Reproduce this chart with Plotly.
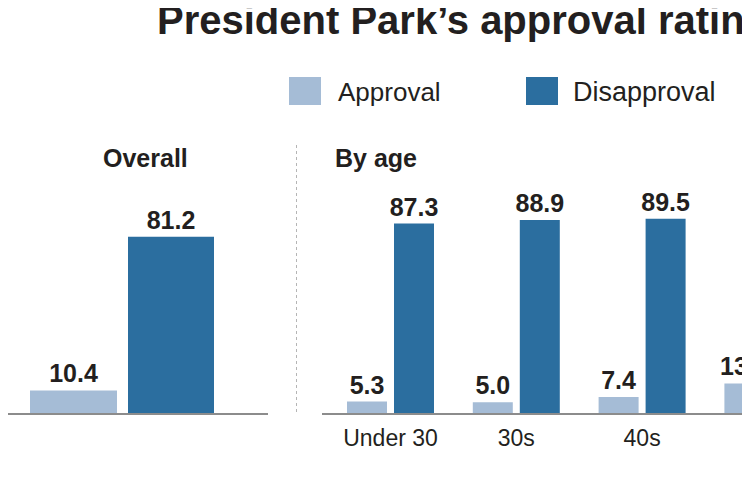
import plotly.graph_objects as go

# ---- data ----
overall_cat = ["Overall"]
overall_approval = [10.4]
overall_disapproval = [81.2]

age_cats = ["Under 30", "30s", "40s", "50s"]
age_approval = [5.3, 5.0, 7.4, 13.6]
age_disapproval = [87.3, 88.9, 89.5, None]

series_names = ["Approval", "Disapproval"]
title_text = "President Park\u2019s approval rating"

# ---- style ----
# The page body has an 8px margin, so the figure is drawn at (8, 8) in the window.
OFF = 8
W, H = 750, 460
C_APP = "#a5bcd6"
C_DIS = "#2b6e9f"
TXT = "#231f20"
FONT = "Liberation Sans, Arial, Helvetica, sans-serif"

def px(x):
    return (x - OFF) / W

def py(y):
    return 1 - (y - OFF) / H

base_y = 413
top_y = 196
ydom = [py(base_y), py(top_y)]

fig = go.Figure()

label_font = dict(family=FONT, size=25, color=TXT, weight="bold")

# Overall panel: x unit = 268 px, group centre at 122 px (window coordinates)
ou = 268.0
oc = 122.0
fig.add_trace(go.Bar(
    x=overall_cat, y=overall_approval, name=series_names[0],
    marker=dict(color=C_APP, line=dict(width=0)),
    width=87 / ou, offset=(30 - oc) / ou,
    texttemplate="%{y:.1f}", textposition="outside", textfont=label_font,
    cliponaxis=False, constraintext="none",
    xaxis="x", yaxis="y", showlegend=False,
))
fig.add_trace(go.Bar(
    x=overall_cat, y=overall_disapproval, name=series_names[1],
    marker=dict(color=C_DIS, line=dict(width=0)),
    width=86 / ou, offset=(128 - oc) / ou,
    texttemplate="%{y:.1f}", textposition="outside", textfont=label_font,
    cliponaxis=False, constraintext="none",
    xaxis="x", yaxis="y", showlegend=False,
))

# By-age panel: x unit = 125.8 px, first group centre at 390.5 px
au = 125.8
ac = 390.5
fig.add_trace(go.Bar(
    x=age_cats, y=age_approval, name=series_names[0],
    marker=dict(color=C_APP, line=dict(width=0)),
    width=40 / au, offset=(347 - ac) / au,
    texttemplate="%{y:.1f}", textposition="outside", textfont=label_font,
    cliponaxis=False, constraintext="none",
    xaxis="x2", yaxis="y2", showlegend=False,
))
fig.add_trace(go.Bar(
    x=age_cats, y=age_disapproval, name=series_names[1],
    marker=dict(color=C_DIS, line=dict(width=0)),
    width=40 / au, offset=(394 - ac) / au,
    texttemplate="%{y:.1f}", textposition="outside", textfont=label_font,
    cliponaxis=False, constraintext="none",
    xaxis="x2", yaxis="y2", showlegend=False,
))

axis_common = dict(showgrid=False, zeroline=False, showline=True,
                   linecolor="#8c8c8c", linewidth=1.5, ticks="", fixedrange=True)

x2_right = OFF + W  # right end of the figure in window pixels

fig.update_layout(
    width=W, height=H, autosize=False,
    margin=dict(l=0, r=0, t=0, b=0, pad=0),
    paper_bgcolor="white", plot_bgcolor="white",
    barmode="overlay",
    showlegend=False,
    xaxis=dict(domain=[0, px(268)], type="category",
               range=[(OFF - oc) / ou, (268 - oc) / ou],
               showticklabels=False, anchor="y", **axis_common),
    yaxis=dict(domain=ydom, range=[0, 100], visible=False, anchor="x"),
    xaxis2=dict(domain=[px(322), 1], type="category",
                range=[(322 - ac) / au, (x2_right - ac) / au],
                showticklabels=True, anchor="y2", ticklabelstandoff=4,
                tickfont=dict(family=FONT, size=23, color=TXT),
                **axis_common),
    yaxis2=dict(domain=ydom, range=[0, 100], visible=False, anchor="x2"),
)

annotations = [
    dict(text=title_text, x=px(155), y=py(20), xanchor="left", yanchor="middle",
         font=dict(family=FONT, size=40, color=TXT, weight="bold")),
    dict(text="Overall", x=px(145.5), y=py(158), xanchor="center", yanchor="middle",
         font=dict(family=FONT, size=25, color=TXT, weight="bold")),
    dict(text="By age", x=px(333), y=py(158), xanchor="left", yanchor="middle",
         font=dict(family=FONT, size=25, color=TXT, weight="bold")),
    dict(text=series_names[0], x=px(336), y=py(92), xanchor="left", yanchor="middle",
         font=dict(family=FONT, size=26, color=TXT)),
    dict(text=series_names[1], x=px(571), y=py(92), xanchor="left", yanchor="middle",
         font=dict(family=FONT, size=27, color=TXT)),
]
for a in annotations:
    a.update(xref="paper", yref="paper", showarrow=False)
fig.update_layout(annotations=annotations)

shapes = [
    dict(type="rect", x0=px(289), x1=px(321), y0=py(105), y1=py(77),
         fillcolor=C_APP, line=dict(width=0)),
    dict(type="rect", x0=px(526), x1=px(558), y0=py(105), y1=py(77),
         fillcolor=C_DIS, line=dict(width=0)),
    dict(type="line", x0=px(296.5), x1=px(296.5), y0=py(145), y1=py(412),
         line=dict(color="#b5b5b5", width=1, dash="dot")),
]
for s in shapes:
    s.update(xref="paper", yref="paper")
fig.update_layout(shapes=shapes)

fig.write_html("out.html")
